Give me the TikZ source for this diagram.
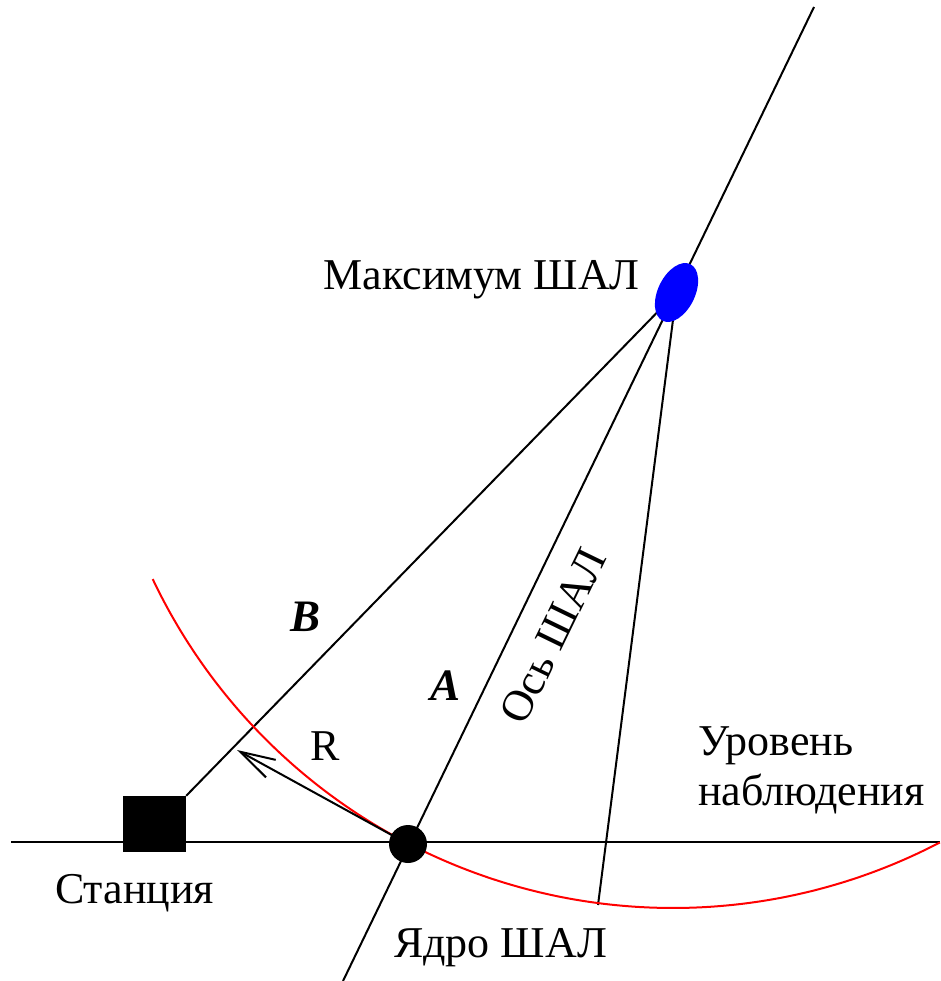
\documentclass[tikz,border=0pt]{standalone}
\usepackage{fontspec}
\setmainfont{Liberation Serif}
\usetikzlibrary{arrows.meta,shapes.geometric,backgrounds}
\begin{document}
\begin{tikzpicture}[x=1pt,y=-1pt,
  ln/.style={line width=2pt, black},
  lbl/.style={inner sep=0pt, font=\fontsize{44}{50}\selectfont},
  blbl/.style={inner sep=0pt, font=\fontsize{45}{50}\selectfont\bfseries\itshape},
  maxnode/.style={ellipse, fill=blue, draw=none, rotate=64, minimum width=63pt, minimum height=37pt, inner sep=0pt},
  stationbox/.style={rectangle, fill=black, draw=none, minimum width=63pt, minimum height=56pt, inner sep=0pt},
  corenode/.style={circle, fill=black, draw=none, minimum size=38pt, inner sep=0pt}]
\useasboundingbox (0,0) rectangle (940,981);

\node[maxnode] (max) at (676.5,292.5) {};
\node[stationbox] (st) at (154.5,824) {};
\node[corenode] (core) at (408,844) {};

\coordinate (hl) at (11,842);
\coordinate (hr) at (940,842);
\coordinate (axb) at (343,981);
\coordinate (axt) at (814,7);
\coordinate (foot) at (598,905);
\coordinate (rtip) at (237,750);

\begin{pgfonlayer}{background}
\draw[ln] (hl) -- (hr);
\draw[ln] (axb) -- (axt);
\draw[ln] (st.north east) -- (max.center);
\draw[ln] (max.center) -- (foot);
\draw[red, line width=2pt] plot[domain=62.4:154.6, samples=150, smooth] ({673+576*cos(\x)},{332+576*sin(\x)});
\draw[ln, -{Straight Barb[length=35pt,width=20pt]}] (core.center) -- (rtip);
\end{pgfonlayer}

\node[lbl, anchor=base east] (lmax) at (640,290) {Максимум ШАЛ};
\node[lbl, anchor=base west] (lst) at (55,903) {Станция};
\node[lbl, anchor=base west] (lcore) at (394,957) {Ядро ШАЛ};
\node[lbl, anchor=base west] (lv1) at (698,755) {Уровень};
\node[lbl, anchor=base west] (lv2) at (698,805) {наблюдения};
\node[lbl, anchor=base west] (lr) at (310,760) {R};
\node[blbl, anchor=base west] (lb) at (290,631) {B};
\node[blbl, anchor=base west] (la) at (430,700) {A};
\node[lbl, rotate=64.1] (lax) at (553,636) {Ось ШАЛ};
\end{tikzpicture}
\end{document}
